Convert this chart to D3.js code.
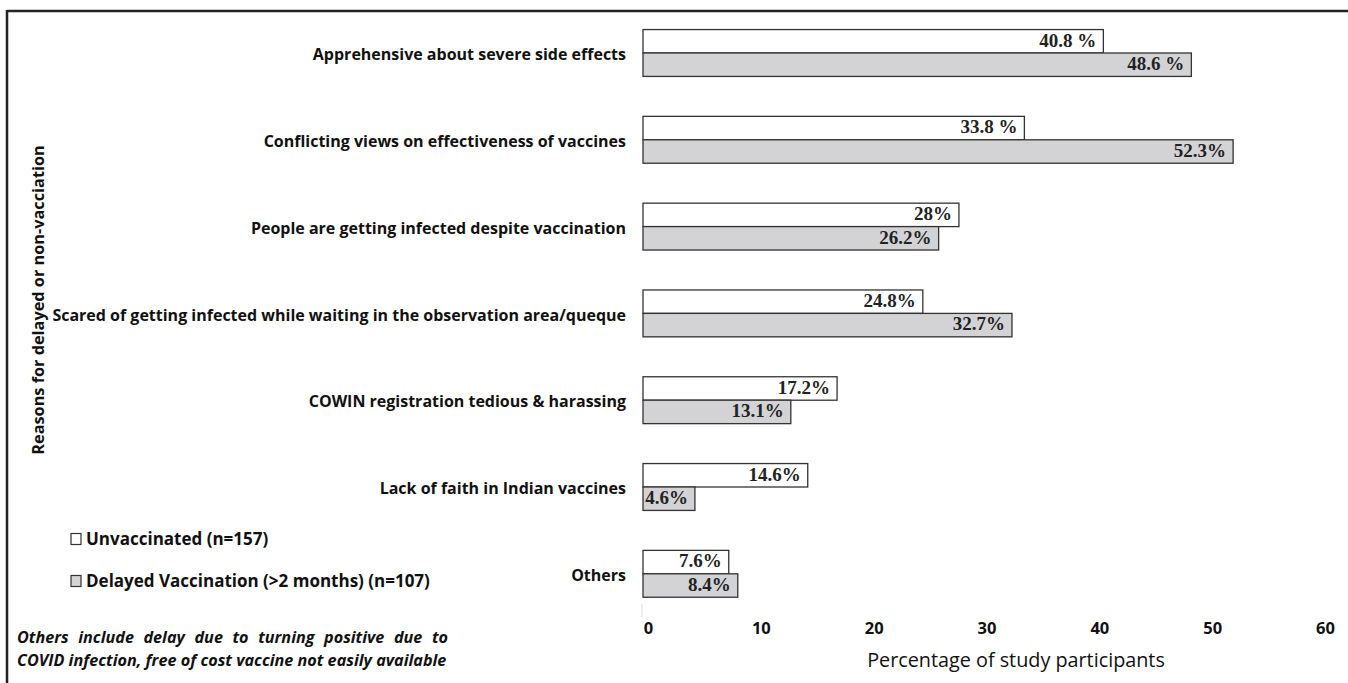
<!DOCTYPE html>
<html>
<head>
<meta charset="utf-8">
<script src="https://cdn.jsdelivr.net/npm/d3@7/dist/d3.min.js"></script>
<style>
  html, body { margin: 0; padding: 0; background: #fff; }
  svg { display: block; }
</style>
</head>
<body>
<svg id="chart" width="1348" height="683"></svg>
<script>
const categories = [
  "Apprehensive about severe side effects",
  "Conflicting views on effectiveness of vaccines",
  "People are getting infected despite vaccination",
  "Scared of getting infected while waiting in the observation area/queque",
  "COWIN registration tedious & harassing",
  "Lack of faith in Indian vaccines",
  "Others"
];
const unvaccinated = [40.8, 33.8, 28, 24.8, 17.2, 14.6, 7.6];
const delayed = [48.6, 52.3, 26.2, 32.7, 13.1, 4.6, 8.4];
const unvaccinatedLabels = ["40.8 %", "33.8 %", "28%", "24.8%", "17.2%", "14.6%", "7.6%"];
const delayedLabels = ["48.6 %", "52.3%", "26.2%", "32.7%", "13.1%", "4.6%", "8.4%"];
const xTicks = [0, 10, 20, 30, 40, 50, 60];
const seriesNames = ["Unvaccinated (n=157)", "Delayed Vaccination (>2 months) (n=107)"];
const seriesKeys = ["u", "d"];
const seriesFill = { u: "#ffffff", d: "#d3d3d5" };

const svg = d3.select("#chart");
const sans = "'Open Sans', Lato, sans-serif";
const serif = "'Liberation Serif', 'DejaVu Serif', serif";

// frame
svg.append("line").attr("x1", 7).attr("x2", 1348).attr("y1", 11).attr("y2", 11)
  .attr("stroke", "#222").attr("stroke-width", 2.5);
svg.append("line").attr("x1", 7).attr("x2", 7).attr("y1", 10).attr("y2", 683)
  .attr("stroke", "#222").attr("stroke-width", 2.5);

const x = d3.scaleLinear().domain([0, 60]).range([643, 1320]);
const y = d3.scaleBand().domain(categories).range([9.6, 617.2])
  .paddingInner(0.46).paddingOuter(0.23);
const ySub = d3.scaleBand().domain(seriesKeys).range([0, y.bandwidth()]);

const rows = categories.map((c, i) => ({
  cat: c,
  vals: [
    { key: "u", v: unvaccinated[i], label: unvaccinatedLabels[i] },
    { key: "d", v: delayed[i], label: delayedLabels[i] }
  ]
}));

const g = svg.append("g");
const row = g.selectAll("g.row").data(rows).join("g")
  .attr("class", "row")
  .attr("transform", d => `translate(0,${y(d.cat)})`);

row.selectAll("rect").data(d => d.vals).join("rect")
  .attr("x", x(0))
  .attr("y", d => ySub(d.key))
  .attr("width", d => x(d.v) - x(0))
  .attr("height", ySub.bandwidth())
  .attr("fill", d => seriesFill[d.key])
  .attr("stroke", "#333")
  .attr("stroke-width", 1.3);

row.selectAll("text.val").data(d => d.vals).join("text")
  .attr("class", "val")
  .attr("x", d => x(d.v) - 7)
  .attr("y", d => ySub(d.key) + ySub.bandwidth() / 2 + 1)
  .attr("text-anchor", "end")
  .attr("dominant-baseline", "middle")
  .attr("font-family", serif)
  .attr("font-weight", "bold")
  .attr("font-size", 19)
  .attr("fill", "#222")
  .text(d => d.label);

// category labels
g.selectAll("text.cat").data(categories).join("text")
  .attr("class", "cat")
  .attr("x", 626)
  .attr("y", d => y(d) + y.bandwidth() / 2 + 3)
  .attr("text-anchor", "end")
  .attr("dominant-baseline", "middle")
  .attr("font-family", sans)
  .attr("font-weight", "bold")
  .attr("font-size", 16)
  .attr("fill", "#111")
  .text(d => d);

// faint axis stub
svg.append("line").attr("x1", 642).attr("x2", 642).attr("y1", 604).attr("y2", 617)
  .attr("stroke", "#ddd").attr("stroke-width", 1);

// x axis
const xAxis = d3.axisBottom(x).tickValues(xTicks).tickSize(0).tickPadding(0);
const ax = svg.append("g").attr("transform", "translate(5,622)").call(xAxis);
ax.select(".domain").remove();
ax.selectAll("text")
  .attr("font-family", sans)
  .attr("font-weight", "bold")
  .attr("font-size", 16.5)
  .attr("fill", "#111");

svg.append("text")
  .attr("x", 1016).attr("y", 667)
  .attr("text-anchor", "middle")
  .attr("font-family", sans)
  .attr("font-size", 19.8)
  .attr("font-weight", 500)
  .attr("fill", "#111")
  .text("Percentage of study participants");

// y axis title
svg.append("text")
  .attr("transform", "translate(44,300) rotate(-90)")
  .attr("text-anchor", "middle")
  .attr("font-family", sans)
  .attr("font-weight", "bold")
  .attr("font-size", 16.3)
  .attr("fill", "#111")
  .text("Reasons for delayed or non-vacciation");

// legend
const leg = svg.append("g");
seriesNames.forEach((name, i) => {
  const ly = 539 + i * 42;
  leg.append("rect").attr("x", 71).attr("y", ly - 5.5).attr("width", 10).attr("height", 11)
    .attr("fill", seriesFill[seriesKeys[i]]).attr("stroke", "#333").attr("stroke-width", 1.2);
  leg.append("text").attr("x", 86).attr("y", ly + 1)
    .attr("dominant-baseline", "middle")
    .attr("font-family", sans)
    .attr("font-weight", "bold")
    .attr("font-size", 17)
    .attr("fill", "#111")
    .text(name);
});

// note, justified
const noteLines = [
  { text: "Others include delay due to turning positive due to", justify: true, y: 643 },
  { text: "COVID infection, free of cost vaccine not easily available", justify: false, y: 666 }
];
const noteX0 = 17, noteX1 = 448;
noteLines.forEach(l => {
  const t = svg.append("text").attr("x", noteX0).attr("y", l.y)
    .attr("font-family", sans)
    .attr("font-style", "italic")
    .attr("font-weight", "bold")
    .attr("font-size", 16.2)
    .attr("fill", "#111")
    .text(l.text);
  const w = t.node().getComputedTextLength();
  const gaps = l.text.split(" ").length - 1;
  if (l.justify && gaps > 0) t.attr("word-spacing", (noteX1 - noteX0 - w) / gaps);
});
</script>
</body>
</html>
